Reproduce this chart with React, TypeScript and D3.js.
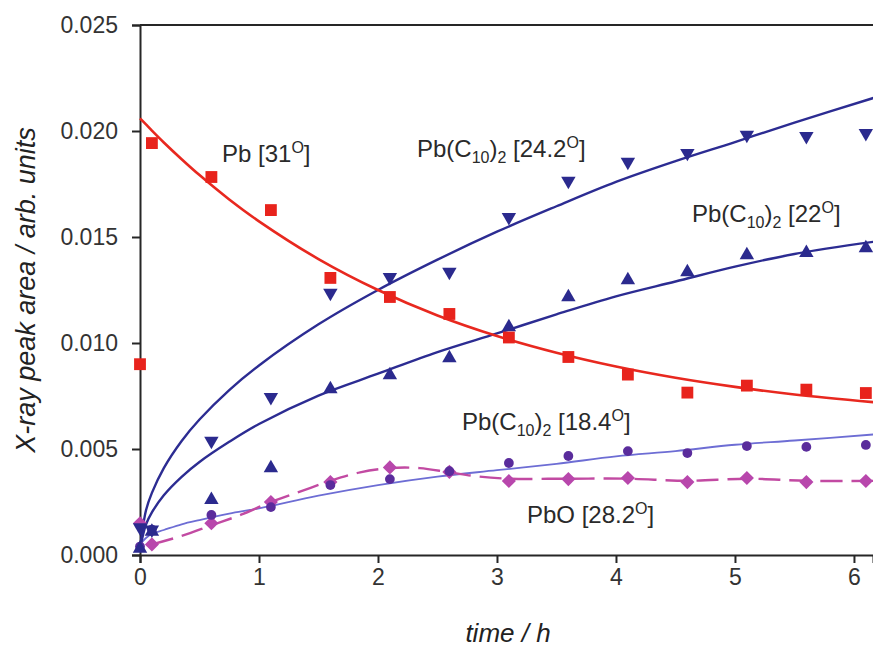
import React, { useRef, useEffect } from 'react';
import * as d3 from 'd3';

// measurement times (h)
const times = [0, 0.1, 0.6, 1.1, 1.6, 2.1, 2.6, 3.1, 3.6, 4.1, 4.6, 5.1, 5.6, 6.1];

// measured peak areas
const pb31 = [0.0090, 0.01943, 0.01783, 0.01627, 0.01307, 0.01217, 0.01137, 0.01026, 0.00934, 0.00851, 0.00766, 0.00799, 0.0078, 0.00764];
const pbC242 = [0.0013, 0.0012, 0.00538, 0.00745, 0.01236, 0.01311, 0.01335, 0.01594, 0.01764, 0.01854, 0.01896, 0.01981, 0.01976, 0.0199];
const pbC22 = [0.0003, 0.0011, 0.0026, 0.0041, 0.00783, 0.00849, 0.00929, 0.01075, 0.01217, 0.01297, 0.01335, 0.01415, 0.01425, 0.01448];
const pbC184 = [0.0004, 0.0012, 0.00189, 0.00226, 0.0033, 0.00358, 0.00395, 0.00434, 0.00467, 0.0049, 0.00481, 0.00514, 0.0051, 0.00519];
const pbO = [0.0015, 0.0005, 0.0015, 0.0025, 0.00344, 0.00413, 0.00392, 0.00349, 0.00358, 0.00363, 0.00344, 0.00363, 0.00344, 0.00349];

// fitted curves
const fitT = [0, 0.05, 0.1, 0.2, 0.35, 0.5, 0.75, 1, 1.5, 2, 2.5, 3, 3.5, 4, 4.5, 5, 5.5, 6.2];
const fitPb = [0.0206, 0.02031, 0.02002, 0.01946, 0.01867, 0.01792, 0.01677, 0.01574, 0.01396, 0.0125, 0.0113, 0.01033, 0.00954, 0.00889, 0.00836, 0.00793, 0.00757, 0.00719];
const fitC242 = [0.0003, 0.0021, 0.00293, 0.0041, 0.00538, 0.00639, 0.00778, 0.00894, 0.01088, 0.0125, 0.01393, 0.01525, 0.01645, 0.0176, 0.01858, 0.01948, 0.0204, 0.02162];
const fitC22 = [0.0003, 0.00144, 0.00201, 0.00282, 0.00369, 0.00439, 0.00534, 0.00618, 0.00752, 0.00855, 0.00957, 0.01045, 0.01135, 0.0122, 0.0129, 0.0136, 0.0142, 0.0148];
const fitC184 = [0.0005, 0.0008, 0.0010, 0.00118, 0.00145, 0.00165, 0.00195, 0.0022, 0.0028, 0.0033, 0.0037, 0.0040, 0.0043, 0.00465, 0.0049, 0.0052, 0.0054, 0.0057];
const fitOT = [0.1, 0.35, 0.6, 0.85, 1.1, 1.35, 1.6, 1.85, 2.1, 2.35, 2.6, 2.85, 3.1, 3.6, 4.1, 4.6, 5.1, 5.6, 6.2];
const fitO = [0.0005, 0.0009, 0.0014, 0.0019, 0.0025, 0.0030, 0.0035, 0.0039, 0.0041, 0.0041, 0.0039, 0.0037, 0.0036, 0.0036, 0.0036, 0.0035, 0.0036, 0.0035, 0.0035];

const xTicks = [0, 1, 2, 3, 4, 5, 6];
const yTicks = [0, 0.005, 0.01, 0.015, 0.02, 0.025];

type Part = { t: string; k?: 'sub' | 'sup' };
const labels: Part[][] = [
  [{ t: 'Pb [31' }, { t: 'O', k: 'sup' }, { t: ']' }],
  [{ t: 'Pb(C' }, { t: '10', k: 'sub' }, { t: ')' }, { t: '2', k: 'sub' }, { t: ' [24.2' }, { t: 'O', k: 'sup' }, { t: ']' }],
  [{ t: 'Pb(C' }, { t: '10', k: 'sub' }, { t: ')' }, { t: '2', k: 'sub' }, { t: ' [22' }, { t: 'O', k: 'sup' }, { t: ']' }],
  [{ t: 'Pb(C' }, { t: '10', k: 'sub' }, { t: ')' }, { t: '2', k: 'sub' }, { t: ' [18.4' }, { t: 'O', k: 'sup' }, { t: ']' }],
  [{ t: 'PbO [28.2' }, { t: 'O', k: 'sup' }, { t: ']' }],
];
const labelX = [222, 417, 692, 462, 527];
const labelY = [162, 157, 222, 430, 523];

export default function App() {
  const svgRef = useRef<SVGSVGElement>(null);
  const width = 873;
  const height = 648;

  useEffect(() => {
    const svg = d3.select(svgRef.current);
    svg.selectAll('*').remove();

    const x = d3.scaleLinear().domain([0, 6.16]).range([140, 873]);
    const y = d3.scaleLinear().domain([0, 0.025]).range([555, 25]);
    const font = '"Liberation Sans", Arial, sans-serif';

    // frame: left, bottom, top
    const axisColor = '#262626';
    svg.append('line').attr('x1', 140).attr('x2', 873).attr('y1', y(0.025)).attr('y2', y(0.025))
      .attr('stroke', axisColor).attr('stroke-width', 2);

    svg.append('g')
      .attr('transform', `translate(0,${y(0)})`)
      .call(d3.axisBottom(x).tickValues(xTicks).tickSize(8).tickPadding(6).tickFormat(d3.format('d')))
      .call(g => g.select('.domain').attr('stroke', axisColor).attr('stroke-width', 2))
      .call(g => g.selectAll('.tick line').attr('stroke', axisColor).attr('stroke-width', 2))
      .call(g => g.selectAll('.tick text').attr('font-size', 23).attr('font-family', font).attr('fill', '#333'));

    svg.append('g')
      .attr('transform', `translate(${x(0)},0)`)
      .call(d3.axisLeft(y).tickValues(yTicks).tickSize(8).tickPadding(14).tickFormat(d3.format('.3f')))
      .call(g => g.select('.domain').attr('stroke', axisColor).attr('stroke-width', 2))
      .call(g => g.selectAll('.tick line').attr('stroke', axisColor).attr('stroke-width', 2))
      .call(g => g.selectAll('.tick text').attr('font-size', 23).attr('font-family', font).attr('fill', '#333'));

    // axis titles
    svg.append('text')
      .attr('x', 508).attr('y', 642)
      .attr('text-anchor', 'middle')
      .attr('font-size', 26).attr('font-style', 'italic').attr('font-family', font).attr('fill', '#222')
      .text('time / h');

    svg.append('text')
      .attr('transform', 'translate(35,290) rotate(-90)')
      .attr('text-anchor', 'middle')
      .attr('font-size', 27).attr('font-style', 'italic').attr('font-family', font).attr('fill', '#222')
      .text('X-ray peak area / arb. units');

    // fitted curves
    const line = d3.line<[number, number]>()
      .x(d => x(d[0]))
      .y(d => y(d[1]))
      .curve(d3.curveCatmullRom);

    const curve = (ts: number[], vs: number[], color: string, w: number, dash?: string) => {
      svg.append('path')
        .datum(ts.map((t, i) => [t, vs[i]] as [number, number]))
        .attr('fill', 'none')
        .attr('stroke', color)
        .attr('stroke-width', w)
        .attr('stroke-dasharray', dash ?? null)
        .attr('d', line);
    };

    curve(fitT, fitC184, '#6d6dd4', 1.8);
    curve(fitOT, fitO, '#c24aa2', 2.4, '22 9');
    curve(fitT, fitC22, '#2c2c92', 2.4);
    curve(fitT, fitC242, '#2c2c92', 2.4);
    curve(fitT, fitPb, '#e8281f', 2.6);

    // markers
    const marks = (vs: number[], type: d3.SymbolType, size: number, color: string, rot = 0) => {
      svg.append('g')
        .selectAll('path')
        .data(vs)
        .join('path')
        .attr('transform', (d, i) => `translate(${x(times[i])},${y(d)}) rotate(${rot})`)
        .attr('d', d3.symbol(type, size)())
        .attr('fill', color);
    };

    marks(pbO, d3.symbolSquare, 100, '#b847ac', 45);
    marks(pbC184, d3.symbolCircle, 75, '#5a2c9c');
    marks(pbC22, d3.symbolTriangle, 90, '#2b2a8e');
    marks(pbC242, d3.symbolTriangle, 90, '#2b2a8e', 180);
    marks(pb31, d3.symbolSquare, 140, '#e8231c');

    // series labels with sub/superscripts
    labels.forEach((parts, li) => {
      const txt = svg.append('text')
        .attr('x', labelX[li]).attr('y', labelY[li])
        .attr('font-size', 24).attr('font-family', font).attr('fill', '#2a2a2a');
      let shift = 0;
      parts.forEach(p => {
        const target = p.k === 'sub' ? 6 : p.k === 'sup' ? -9 : 0;
        txt.append('tspan')
          .attr('dy', target - shift)
          .attr('font-size', p.k ? 16 : 24)
          .text(p.t);
        shift = target;
      });
    });
  }, []);

  return (
    <svg
      ref={svgRef}
      width={width}
      height={height}
      style={{ position: 'absolute', left: 0, top: 0, background: '#fff' }}
    />
  );
}
